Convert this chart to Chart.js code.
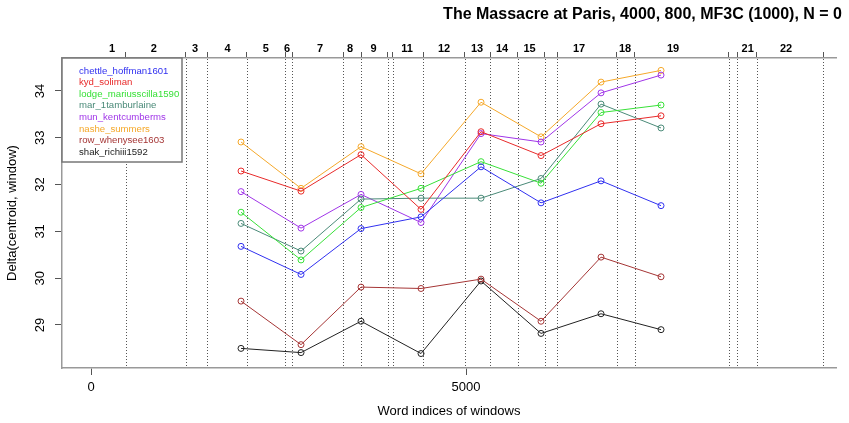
<!DOCTYPE html>
<html>
<head>
<meta charset="utf-8">
<script src="https://cdn.jsdelivr.net/npm/chart.js@4.4.1/dist/chart.umd.min.js"></script>
<style>
  html, body { margin: 0; padding: 0; background: #fff; }
  #wrap { width: 849px; height: 423px; }
</style>
</head>
<body>
<div id="wrap"><canvas id="chart" width="849" height="423"></canvas></div>
<script>
// centres of the 4000-word windows, step 800
const windowCentres = [2000, 2800, 3600, 4400, 5200, 6000, 6800, 7600];

const seriesNames = ['chettle_hoffman1601', 'kyd_soliman', 'lodge_mariusscilla1590', 'mar_1tamburlaine',
  'mun_kentcumberms', 'nashe_summers', 'row_whenysee1603', 'shak_richiii1592'];
const chettle = [30.68, 30.08, 31.06, 31.31, 32.38, 31.61, 32.08, 31.55];
const kyd     = [32.29, 31.86, 32.64, 31.47, 33.13, 32.62, 33.30, 33.47];
const lodge   = [31.41, 30.39, 31.51, 31.92, 32.49, 32.03, 33.54, 33.70];
const mar     = [31.17, 30.58, 31.69, 31.71, 31.71, 32.13, 33.72, 33.21];
const mun     = [31.85, 31.07, 31.79, 31.19, 33.09, 32.91, 33.96, 34.34];
const nashe   = [32.91, 31.92, 32.81, 32.23, 33.76, 33.02, 34.19, 34.44];
const row     = [29.51, 28.58, 29.81, 29.78, 29.98, 29.08, 30.45, 30.03];
const shak    = [28.50, 28.41, 29.08, 28.39, 29.94, 28.82, 29.24, 28.90];
const seriesValues = [chettle, kyd, lodge, mar, mun, nashe, row, shak];
const seriesColors = ['#3030f0', '#e82a2a', '#38e038', '#4a8a78', '#a035e8', '#f5a82a', '#a53535', '#222222'];

// scene boundaries (word index) and their labels
const sectionBounds = [461, 1263, 1552, 2079, 2591, 2685, 3364, 3601, 3955, 4020, 4432, 4980,
  5320, 5688, 6049, 6215, 7009, 7247, 8503, 8619, 8879, 9760];
const sectionLabels = ['1', '2', '3', '4', '5', '6', '7', '8', '9', '11', '12', '13', '14', '15', '17', '18', '19', '21', '22'];
const sectionLabelPos = [280, 837, 1387, 1819, 2331, 2613, 3053, 3453, 3768, 4213, 4707, 5147, 5480, 5847,
  6507, 7120, 7760, 8756, 9267];

const xTicks = [0, 5000];
const yTicks = [29, 30, 31, 32, 33, 34];
const xMin = -387, xMax = 9933;
const yMin = 28.081, yMax = 34.705;

const chartTitle = 'The Massacre at Paris, 4000, 800, MF3C (1000), N = 0';
const xTitle = 'Word indices of windows';
const yTitle = 'Delta(centroid, window)';

const FONT = '"Liberation Sans", Arial, Helvetica, sans-serif';

const datasets = seriesNames.map((name, i) => ({
  label: name,
  data: windowCentres.map((x, j) => ({ x: x, y: seriesValues[i][j] })),
  borderColor: seriesColors[i],
  backgroundColor: 'rgba(0,0,0,0)',
  pointBorderColor: seriesColors[i],
  pointBackgroundColor: 'rgba(0,0,0,0)',
  borderWidth: 1,
  pointRadius: 3,
  pointBorderWidth: 1,
  tension: 0
}));

// dotted scene lines, titles, scene labels, rotated y labels and the legend box
const decor = {
  id: 'decor',
  beforeDatasetsDraw(chart) {
    const ctx = chart.ctx;
    const area = chart.chartArea;
    const top = chart.scales.x2;
    ctx.save();
    ctx.strokeStyle = '#555';
    ctx.lineWidth = 1;
    ctx.setLineDash([1, 2]);
    sectionBounds.forEach(v => {
      const px = Math.round(top.getPixelForValue(v)) + 0.5;
      ctx.beginPath();
      ctx.moveTo(px, area.top + 1);
      ctx.lineTo(px, area.bottom - 1);
      ctx.stroke();
    });
    ctx.restore();
  },
  afterDraw(chart) {
    const ctx = chart.ctx;
    const area = chart.chartArea;
    const xs = chart.scales.x, ys = chart.scales.y;
    ctx.save();
    ctx.fillStyle = '#000';
    ctx.textBaseline = 'middle';

    ctx.font = 'bold 16px ' + FONT;
    ctx.textAlign = 'right';
    ctx.fillText(chartTitle, 842, 15);

    ctx.font = 'bold 11px ' + FONT;
    ctx.textAlign = 'center';
    sectionLabels.forEach((t, i) => ctx.fillText(t, xs.getPixelForValue(sectionLabelPos[i]), 49));

    ctx.font = '13px ' + FONT;
    yTicks.forEach(v => {
      ctx.save();
      ctx.translate(40, ys.getPixelForValue(v));
      ctx.rotate(-Math.PI / 2);
      ctx.fillText(String(v), 0, 0);
      ctx.restore();
    });
    ctx.fillText(xTitle, (area.left + area.right) / 2, 411);
    ctx.save();
    ctx.translate(12, (area.top + area.bottom) / 2);
    ctx.rotate(-Math.PI / 2);
    ctx.fillText(yTitle, 0, 0);
    ctx.restore();

    // legend
    ctx.fillStyle = '#fff';
    ctx.fillRect(area.left, area.top, 120, 104);
    ctx.strokeStyle = '#777';
    ctx.lineWidth = 1.5;
    ctx.strokeRect(area.left, area.top, 120, 104);
    ctx.font = '9.6px ' + FONT;
    ctx.textAlign = 'left';
    seriesNames.forEach((n, i) => {
      ctx.fillStyle = seriesColors[i];
      ctx.fillText(n, area.left + 17, area.top + 13 + i * 11.6);
    });
    ctx.restore();
  }
};

new Chart(document.getElementById('chart').getContext('2d'), {
  type: 'line',
  data: { datasets: datasets },
  options: {
    responsive: false,
    animation: false,
    devicePixelRatio: 1,
    layout: { padding: { left: 0, right: 13, top: 0, bottom: 0 } },
    plugins: { legend: { display: false }, tooltip: { enabled: false } },
    scales: {
      x: {
        type: 'linear', position: 'bottom', min: xMin, max: xMax,
        afterBuildTicks: s => { s.ticks = xTicks.map(v => ({ value: v })); },
        afterFit: s => { s.height = 55; },
        grid: { drawOnChartArea: false, drawTicks: true, tickLength: 7, tickColor: '#555', tickWidth: 1 },
        border: { display: true, color: '#999', width: 1.5 },
        ticks: { color: '#000', font: { family: FONT, size: 13 }, padding: 5, maxRotation: 0, callback: v => String(v) }
      },
      x2: {
        type: 'linear', position: 'top', min: xMin, max: xMax,
        afterBuildTicks: s => { s.ticks = sectionBounds.map(v => ({ value: v })); },
        afterFit: s => { s.height = 58; },
        grid: { drawOnChartArea: false, drawTicks: true, tickLength: 6, tickColor: '#555', tickWidth: 1 },
        border: { display: true, color: '#999', width: 1.5 },
        ticks: { display: false }
      },
      y: {
        type: 'linear', position: 'left', min: yMin, max: yMax,
        afterBuildTicks: s => { s.ticks = yTicks.map(v => ({ value: v })); },
        afterFit: s => { s.width = 62; },
        grid: { drawOnChartArea: false, drawTicks: true, tickLength: 7, tickColor: '#555', tickWidth: 1 },
        border: { display: true, color: '#999', width: 1.5 },
        ticks: { display: false }
      }
    }
  },
  plugins: [decor]
});
</script>
</body>
</html>
